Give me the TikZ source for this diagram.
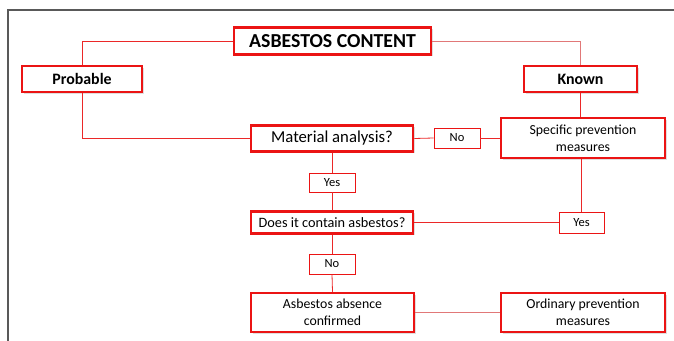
\documentclass[tikz,border=0pt]{standalone}
\usepackage{fontspec}
\setmainfont{Carlito}
\usetikzlibrary{shadows}
\definecolor{boxred}{RGB}{235,20,20}
\definecolor{linered}{RGB}{235,40,40}
\definecolor{palered}{RGB}{225,120,120}
\tikzset{
  bigbox/.style={draw=boxred, line width=2.5pt, fill=white, align=center, inner sep=0pt,
    drop shadow={opacity=0.25, shadow xshift=1.5pt, shadow yshift=-1.5pt}},
  tagbox/.style={draw=boxred, line width=0.7pt, fill=white, align=center, inner sep=0pt,
    minimum width=46pt, minimum height=20pt, font=\fontsize{12.5}{14}\selectfont},
  twoline/.style={font=\fontsize{13.8}{17}\selectfont},
  conn/.style={draw=linered, line width=0.8pt},
}
\begin{document}
\begin{tikzpicture}[x=1pt, y=-1pt]
\useasboundingbox (0,0) rectangle (674,340);
% frame
\draw[line width=1.5pt, draw=black!65] (8,345) -- (8,10) -- (680,10);
% nodes
\node[bigbox, minimum width=197pt, minimum height=27pt, font=\fontsize{19.8}{22}\selectfont\bfseries] (A) at (332.5,41) {ASBESTOS CONTENT};
\node[bigbox, minimum width=120pt, minimum height=26pt, font=\fontsize{15.9}{18}\selectfont\bfseries] (P) at (82,79) {Probable};
\node[bigbox, minimum width=113pt, minimum height=26pt, font=\fontsize{15.9}{18}\selectfont\bfseries] (K) at (580.5,79) {Known};
\node[bigbox, minimum width=162pt, minimum height=26pt, font=\fontsize{16.7}{19}\selectfont] (M) at (332,138.5) {Material analysis?};
\node[tagbox] (N1) at (457,138) {No};
\node[bigbox, twoline, minimum width=164pt, minimum height=40pt] (S) at (583,138) {Specific prevention\\measures};
\node[tagbox, minimum height=19pt] (Y1) at (332,182.5) {Yes};
\node[bigbox, minimum width=162pt, minimum height=22pt, font=\fontsize{14.3}{16}\selectfont] (D) at (332,222.5) {Does it contain asbestos?};
\node[tagbox, minimum width=45pt, minimum height=21pt] (Y2) at (581.5,222.5) {Yes};
\node[tagbox] (N2) at (332,264) {No};
\node[bigbox, twoline, minimum width=163pt, minimum height=39pt] (AB) at (332.5,312.5) {Asbestos absence\\confirmed};
\node[bigbox, twoline, minimum width=164pt, minimum height=39pt] (O) at (583,312.5) {Ordinary prevention\\measures};
% connectors
\draw[conn] (A.west) -| (P.north);
\draw[conn, draw=palered] (A.east) -| (K.north);
\draw[conn] (P.south) |- (M.west);
\draw[conn] (M.east) -- (N1.west);
\draw[conn] (N1.east) -- (S.west);
\draw[conn] (K.south) -- (K.south |- S.north);
\draw[conn] (Y2.north |- S.south) -- (Y2.north);
\draw[conn] (D.east) -- (Y2.west);
\draw[conn] (M.south) -- (Y1.north);
\draw[conn] (Y1.south) -- (D.north);
\draw[conn] (D.south) -- (N2.north);
\draw[conn] (N2.south) -- (AB.north);
\draw[conn, draw=palered] (AB.east) -- (O.west);
\end{tikzpicture}
\end{document}
